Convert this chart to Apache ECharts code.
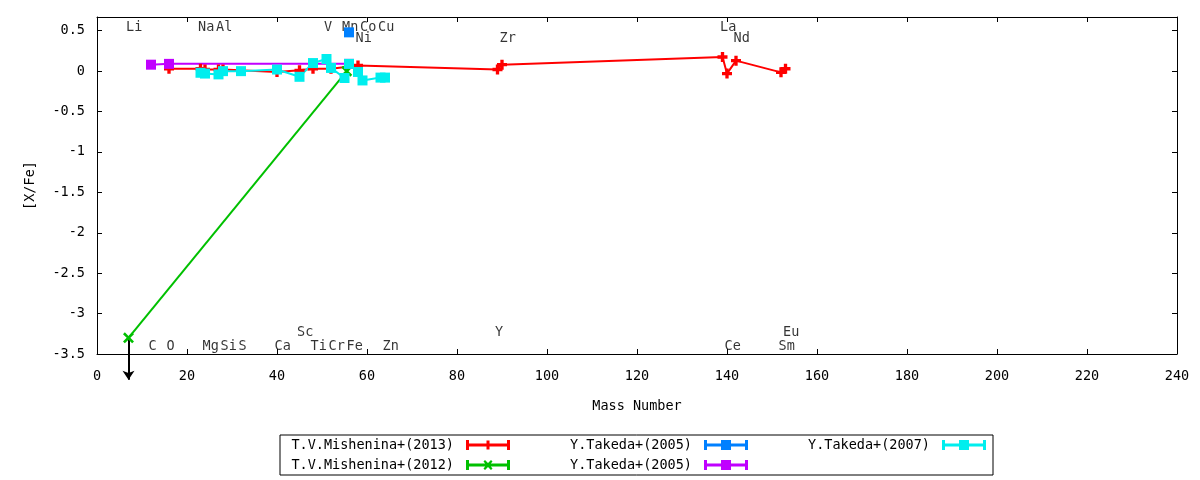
<!DOCTYPE html>
<html>
<head>
<meta charset="utf-8">
<script src="https://cdn.jsdelivr.net/npm/echarts@6/dist/echarts.min.js"></script>
<style>
  html, body { margin: 0; padding: 0; background: #fff; }
  #main { width: 1200px; height: 480px; }
</style>
</head>
<body>
<div id="main"></div>
<script>
  // [mass number, [X/Fe]]
  const mishenina2013 = [
    [16, 0.03], [23, 0.03], [24, 0.02], [27, 0.02], [28, 0.02], [40, -0.01],
    [45, 0.01], [48, 0.03], [52, 0.03], [58, 0.07], [89, 0.02], [90, 0.08],
    [139, 0.175], [140, -0.03], [142, 0.13], [152, -0.015], [153, 0.03]
  ];
  const mishenina2012 = [[7, -3.3], [55.5, 0.0]];
  const takeda2005a = [[56, 0.48]];
  const takeda2005b = [[12, 0.08], [16, 0.09], [56, 0.09]];
  const takeda2007 = [
    [23, -0.02], [24, -0.03], [27, -0.04], [28, 0.0], [32, 0.0], [40, 0.02],
    [45, -0.07], [48, 0.10], [51, 0.15], [52, 0.04], [55, -0.085], [56, 0.09],
    [58, -0.01], [59, -0.115], [63, -0.08], [64, -0.08]
  ];
  // Li upper limit arrow
  const liLimit = [[7, -3.3], [7, -3.82]];

  // element name, mass number, height of the label
  const elementLabels = [
    ['Li', 7, 0.56], ['Na', 23, 0.56], ['Al', 27, 0.56], ['V', 51, 0.56],
    ['Mn', 55, 0.56], ['Co', 59, 0.56], ['Cu', 63, 0.56], ['La', 139, 0.56],
    ['Ni', 58, 0.43], ['Zr', 90, 0.43], ['Nd', 142, 0.43],
    ['Sc', 45, -3.21], ['Y', 89, -3.21], ['Eu', 153, -3.21],
    ['C', 12, -3.38], ['O', 16, -3.38], ['Mg', 24, -3.38], ['Si', 28, -3.38],
    ['S', 32, -3.38], ['Ca', 40, -3.38], ['Ti', 48, -3.38], ['Cr', 52, -3.38],
    ['Fe', 56, -3.38], ['Zn', 64, -3.38], ['Ce', 140, -3.38], ['Sm', 152, -3.38]
  ];

  const FONT = 'DejaVu Sans Mono';
  const FSIZE = 13.5;

  const plusPath = 'path://M3,0H6V3H9V6H6V9H3V6H0V3H3Z';
  const crossPath = 'path://M0,1.5L1.5,0L4.5,3L7.5,0L9,1.5L6,4.5L9,7.5L7.5,9L4.5,6L1.5,9L0,7.5L3,4.5Z';

  // legend samples: line with end bars and the point mark in the middle
  const bars = 'M0,3.5H44V6.5H0Z M0,0H3V10H0Z M41,0H44V10H41Z ';
  const iconPlus = 'path://' + bars + 'M20.5,0.5H23.5V3.5H26.5V6.5H23.5V9.5H20.5V6.5H17.5V3.5H20.5Z';
  const iconCross = 'path://' + bars + 'M17.5,1.5L19,0L22,3L25,0L26.5,1.5L23.5,5L26.5,8.5L25,10L22,7L19,10L17.5,8.5L20.5,5Z';
  const iconSquare = 'path://' + bars + 'M17,0H27V10H17Z';

  const chart = echarts.init(document.getElementById('main'), null, { renderer: 'canvas' });

  function pointSeries(name, data, color, symbol, size) {
    return {
      name: name,
      type: 'line',
      data: data,
      symbol: symbol,
      symbolSize: size,
      showAllSymbol: true,
      lineStyle: { color: color, width: 2 },
      itemStyle: { color: color, borderWidth: 0 },
      emphasis: { disabled: true },
      animation: false
    };
  }

  function legendEntry(name, icon, right, top) {
    return {
      data: [{ name: name, icon: icon }],
      right: right,
      top: top,
      padding: 0,
      align: 'right',
      itemWidth: 44,
      itemHeight: 10,
      symbolKeepAspect: false,
      selectedMode: false,
      itemStyle: { borderWidth: 0 },
      formatter: n => n.trim(),
      textStyle: { fontFamily: FONT, fontSize: FSIZE, color: '#000', padding: [0, 7, 0, 0] }
    };
  }

  const axisCommon = {
    type: 'value',
    axisLine: { show: true, onZero: false, lineStyle: { color: '#000', width: 1 } },
    axisTick: { show: true, inside: true, length: 5, lineStyle: { color: '#000' } },
    splitLine: { show: false }
  };

  const option = {
    backgroundColor: '#fff',
    animation: false,
    grid: { left: 97, top: 17, width: 1080, height: 337 },
    graphic: [{
      type: 'rect',
      shape: { x: 280, y: 435, width: 713, height: 40 },
      style: { fill: 'none', stroke: '#000', lineWidth: 1 },
      silent: true
    }],
    legend: [
      legendEntry('T.V.Mishenina+(2013)', iconPlus, 690, 438),
      legendEntry('T.V.Mishenina+(2012)', iconCross, 690, 458),
      legendEntry('Y.Takeda+(2005)', iconSquare, 452, 438),
      legendEntry('Y.Takeda+(2005) ', iconSquare, 452, 458),
      legendEntry('Y.Takeda+(2007)', iconSquare, 214, 438)
    ],
    xAxis: [
      Object.assign({}, axisCommon, {
        min: 0, max: 240, interval: 20, position: 'bottom',
        name: 'Mass Number', nameLocation: 'middle', nameGap: 45,
        nameTextStyle: { fontFamily: FONT, fontSize: FSIZE, color: '#000' },
        axisLabel: { margin: 15, fontFamily: FONT, fontSize: FSIZE, color: '#000' }
      }),
      Object.assign({}, axisCommon, {
        min: 0, max: 240, interval: 20, position: 'top',
        axisLabel: { show: false }
      })
    ],
    yAxis: [
      Object.assign({}, axisCommon, {
        min: -3.5, max: 0.67, interval: 0.5, position: 'left',
        name: '[X/Fe]', nameLocation: 'middle', nameGap: 60,
        nameTextStyle: { fontFamily: FONT, fontSize: FSIZE, color: '#000' },
        axisLabel: {
          margin: 12, showMaxLabel: false, padding: [4, 0, 0, 0],
          fontFamily: FONT, fontSize: FSIZE, color: '#000'
        }
      }),
      Object.assign({}, axisCommon, {
        min: -3.5, max: 0.67, interval: 0.5, position: 'right',
        axisLabel: { show: false }
      })
    ],
    series: [
      {
        type: 'scatter',
        data: elementLabels.map(e => [e[1], e[2], e[0]]),
        symbol: 'rect',
        symbolSize: 1,
        itemStyle: { color: 'rgba(0,0,0,0)' },
        silent: true,
        animation: false,
        label: {
          show: true,
          formatter: p => p.data[2],
          position: 'inside',
          align: 'left',
          verticalAlign: 'middle',
          offset: [-2.5, 2],
          fontFamily: FONT,
          fontSize: FSIZE,
          color: '#000'
        }
      },
      pointSeries('T.V.Mishenina+(2013)', mishenina2013, '#ff0000', plusPath, 10),
      Object.assign(pointSeries('T.V.Mishenina+(2012)', mishenina2012, '#00c000', crossPath, 11), { clip: false }),
      {
        type: 'lines',
        coordinateSystem: 'cartesian2d',
        clip: false,
        silent: true,
        animation: false,
        symbol: ['none', 'arrow'],
        symbolSize: 9,
        lineStyle: { color: '#000', width: 2, opacity: 1 },
        data: [{ coords: liLimit }]
      },
      pointSeries('Y.Takeda+(2005)', takeda2005a, '#0080ff', 'rect', 10),
      pointSeries('Y.Takeda+(2005) ', takeda2005b, '#c000ff', 'rect', 10),
      pointSeries('Y.Takeda+(2007)', takeda2007, '#00eeee', 'rect', 10)
    ]
  };

  chart.setOption(option);

  window.addEventListener('resize', () => {
    chart.resize();
  });
</script>
</body>
</html>
